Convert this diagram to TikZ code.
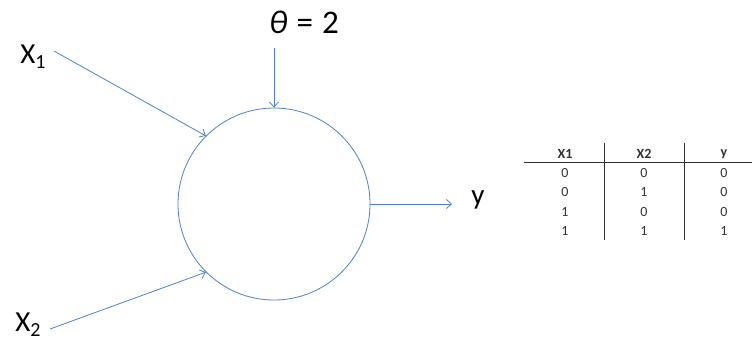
\documentclass[tikz,border=0pt]{standalone}
\usepackage{fontspec}
\setmainfont{Carlito}
\usetikzlibrary{arrows.meta}
\definecolor{linkblue}{RGB}{79,129,189}
\definecolor{tablegray}{RGB}{50,50,50}
\tikzset{
  link/.style={draw=linkblue, line width=0.8pt, -{Straight Barb[length=5pt,width=9pt]}},
  biglabel/.style={font=\fontsize{29}{32}\selectfont, text=black, inner sep=0pt},
  cell/.style={font=\fontsize{14}{16}\selectfont, text=tablegray, inner sep=0pt},
  headcell/.style={cell, font=\fontsize{14}{16}\selectfont\bfseries},
  rule/.style={draw=tablegray, line width=0.7pt}
}
\newcommand{\xsub}[1]{X\raisebox{-5pt}{\fontsize{20}{22}\selectfont #1}}
\begin{document}
\begin{tikzpicture}[x=1pt, y=-1pt]
    \useasboundingbox (0,0) rectangle (752,349);

    % the neuron
    \node[draw=linkblue, line width=0.8pt, circle, minimum size=192pt, inner sep=0pt] (neuron) at (274,204) {};

    % inputs and threshold
    \node[biglabel] (x1) at (33,57) {\xsub{1}};
    \node[biglabel] (x2) at (28,325) {\xsub{2}};
    \node[biglabel, font=\fontsize{33}{36}\selectfont] (theta) at (304,22) {\textit{θ}\hspace{9pt}=\hspace{9pt}2};
    \node[biglabel] (y) at (478,200) {y};

    \coordinate (x1 tail) at (54,51);
    \coordinate (x2 tail) at (50,329);
    \coordinate (theta tail) at (274,48);
    \coordinate (y head) at (452,204);

    \draw[link] (x1 tail) -- (neuron.135);
    \draw[link] (x2 tail) -- (neuron.225);
    \draw[link] (theta tail) -- (neuron.north);
    \draw[link] (neuron.east) -- (y head);

    % truth table
    \node[headcell] (h1) at (565,154) {X1};
    \node[headcell] (h2) at (644,154) {X2};
    \node[headcell] (h3) at (724,154) {y};
    \foreach \a/\b/\c [count=\i] in {0/0/0, 0/1/0, 1/0/0, 1/1/1} {
        \node[cell] (r\i c1) at (565,153+19.6*\i) {\a};
        \node[cell] (r\i c2) at (644,153+19.6*\i) {\b};
        \node[cell] (r\i c3) at (724,153+19.6*\i) {\c};
    }
    \coordinate (rule left) at (524,162);
    \coordinate (rule right) at (752,162);
    \draw[rule] (rule left) -- (rule right);
    \coordinate (bar1 top) at (604,143);
    \coordinate (bar1 bottom) at (604,240);
    \coordinate (bar2 top) at (684,143);
    \coordinate (bar2 bottom) at (684,240);
    \draw[rule] (bar1 top) -- (bar1 bottom);
    \draw[rule] (bar2 top) -- (bar2 bottom);
\end{tikzpicture}
\end{document}
